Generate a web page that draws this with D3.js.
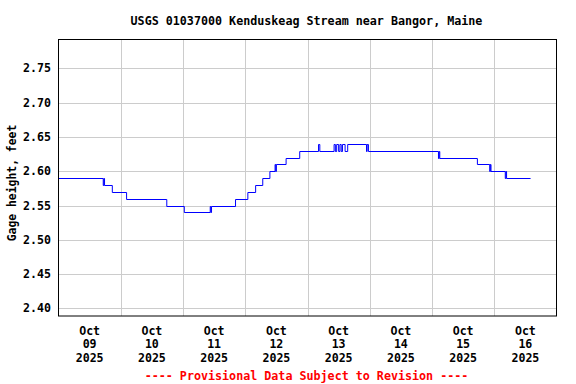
<!DOCTYPE html>
<html>
<head>
<meta charset="utf-8">
<script src="https://cdn.jsdelivr.net/npm/d3@7"></script>
<style>
  body { margin: 0; background: #fff; }
  text { font-family: "DejaVu Sans Mono", "Liberation Mono", monospace; font-weight: bold; }
</style>
</head>
<body>
<script>
// gage height record, step changes (hours after Oct 09 2025 00:00, feet)
var changeHours = [0, 17.25, 17.5, 17.75, 20.75, 26.25, 41.75, 48.5, 58.5, 58.75, 59,
  68.25, 73, 76, 78.75, 81.5, 83.5, 83.75, 84, 87.75, 93,
  100.25, 100.75, 106.25, 106.75, 107.25, 108, 108.5, 109, 109.5, 110.5, 111.5,
  118.75, 119, 119.5, 146.5, 146.75, 147, 161.5, 166.25, 166.5, 166.75,
  172.25, 172.5, 172.75, 182];
var changeValues = [2.59, 2.58, 2.59, 2.58, 2.57, 2.56, 2.55, 2.54, 2.55, 2.54, 2.55,
  2.56, 2.57, 2.58, 2.59, 2.60, 2.61, 2.60, 2.61, 2.62, 2.63,
  2.64, 2.63, 2.64, 2.63, 2.64, 2.63, 2.64, 2.63, 2.64, 2.63, 2.64,
  2.63, 2.64, 2.63, 2.62, 2.63, 2.62, 2.61, 2.60, 2.61, 2.60,
  2.59, 2.60, 2.59, 2.59];
var yTicks = [2.40, 2.45, 2.50, 2.55, 2.60, 2.65, 2.70, 2.75];
var dayLabels = ["09", "10", "11", "12", "13", "14", "15", "16"];
var startTime = Date.UTC(2025, 9, 9);

var width = 576, height = 384,
    plotL = 58.5, plotR = 556.5, plotT = 39.5, plotB = 316;

var svg = d3.select("body").append("svg")
    .attr("width", width)
    .attr("height", height);

var x = d3.scaleUtc()
    .domain([new Date(startTime), new Date(startTime + 8 * 864e5)])
    .range([plotL, plotR]);
var y = d3.scaleLinear()
    .domain([2.389, 2.792])
    .range([plotB, plotT]);

var data = changeHours.map(function(h, i) {
  return { t: new Date(startTime + h * 36e5), v: changeValues[i] };
});

// grid
var days = x.ticks(d3.utcDay.every(1)).slice(1, -1);
svg.selectAll("line.vgrid").data(days).enter().append("line")
    .attr("x1", function(d) { return Math.round(x(d)) + 0.5; })
    .attr("x2", function(d) { return Math.round(x(d)) + 0.5; })
    .attr("y1", plotT).attr("y2", plotB)
    .attr("stroke", "#cccccc");
svg.selectAll("line.hgrid").data(yTicks).enter().append("line")
    .attr("x1", plotL).attr("x2", plotR)
    .attr("y1", function(d) { return Math.round(y(d)) + 0.5; })
    .attr("y2", function(d) { return Math.round(y(d)) + 0.5; })
    .attr("stroke", "#cccccc");

// data line
var line = d3.line()
    .x(function(d) { return x(d.t); })
    .y(function(d) { return Math.round(y(d.v)) + 0.5; })
    .curve(d3.curveStepAfter);
svg.append("path")
    .datum(data)
    .attr("d", line)
    .attr("fill", "none")
    .attr("stroke", "#0000ff")
    .attr("stroke-width", 1);

// frame
svg.append("rect")
    .attr("x", plotL).attr("y", plotT)
    .attr("width", plotR - plotL).attr("height", plotB - plotT)
    .attr("fill", "none").attr("stroke", "#000");

// y tick labels
svg.selectAll("text.ylab").data(yTicks).enter().append("text")
    .attr("x", 51)
    .attr("y", function(d) { return y(d) + 4; })
    .attr("text-anchor", "end")
    .attr("font-size", "11.6px")
    .text(function(d) { return d3.format(".2f")(d); });

// x tick labels at noon of each day
var xl = svg.selectAll("g.xlab").data(dayLabels).enter().append("g")
    .attr("transform", function(d, i) {
      return "translate(" + x(new Date(startTime + (i + 0.5) * 864e5)) + ",0)";
    });
[["Oct", 335], [null, 348], ["2025", 361.5]].forEach(function(r) {
  xl.append("text")
      .attr("y", r[1])
      .attr("text-anchor", "middle")
      .attr("font-size", "11.6px")
      .text(function(d) { return r[0] === null ? d : r[0]; });
});

// titles
svg.append("text")
    .attr("x", 306.5).attr("y", 24.5)
    .attr("text-anchor", "middle")
    .attr("font-size", "11.7px")
    .text("USGS 01037000 Kenduskeag Stream near Bangor, Maine");
svg.append("text")
    .attr("transform", "translate(16,183) rotate(-90)")
    .attr("text-anchor", "middle")
    .attr("font-size", "11.4px")
    .text("Gage height, feet");
svg.append("text")
    .attr("x", 306.5).attr("y", 379.5)
    .attr("text-anchor", "middle")
    .attr("font-size", "11.7px")
    .attr("fill", "#ff0000")
    .text("---- Provisional Data Subject to Revision ----");
</script>
</body>
</html>
